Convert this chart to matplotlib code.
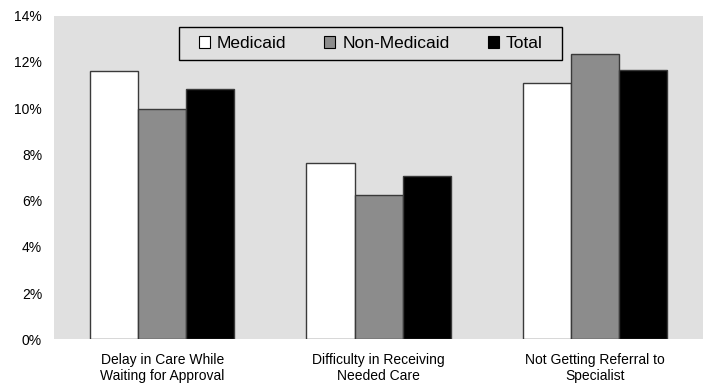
import numpy as np
import matplotlib
matplotlib.use("Agg")
import matplotlib.pyplot as plt
from matplotlib.patches import Rectangle

plt.rcParams["font.family"] = ["Liberation Sans", "DejaVu Sans"]

categories = [
    "Delay in Care While\nWaiting for Approval",
    "Difficulty in Receiving\nNeeded Care",
    "Not Getting Referral to\nSpecialist",
]
series_names = ["Medicaid", "Non-Medicaid", "Total"]
medicaid = [11.6, 7.65, 11.1]
non_medicaid = [9.95, 6.25, 12.35]
total = [10.85, 7.05, 11.65]
y_ticks = [0, 2, 4, 6, 8, 10, 12, 14]

fig = plt.figure(figsize=(7.06, 3.9), dpi=100)
ax = fig.add_axes([0.0765, 0.1295, 0.9193, 0.8302])
ax.set_facecolor("#e0e0e0")

x = np.arange(len(categories))
width = 0.222
colors = ["#ffffff", "#8c8c8c", "#000000"]
for k, (name, vals) in enumerate(zip(series_names, [medicaid, non_medicaid, total])):
    ax.bar(x + (k - 1) * width, vals, width, color=colors[k],
           edgecolor="#3a3a3a", linewidth=1.0, label=name, zorder=2)

ax.set_xlim(-0.5, 2.5)
ax.set_ylim(0, 14)
ax.set_yticks(y_ticks)
ax.set_yticklabels([f"{t}%" for t in y_ticks])
ax.set_xticks(x)
ax.set_xticklabels(categories)
ax.tick_params(axis="y", length=0, pad=8.6, labelsize=10)
ax.tick_params(axis="x", length=0, pad=9.5, labelsize=10)
for s in ax.spines.values():
    s.set_visible(False)

# legend box drawn separately so it can be wider than the entries need
ax.add_patch(Rectangle((0.1926, 0.8632), 0.5901, 0.1019, transform=ax.transAxes,
                       facecolor="#e0e0e0", edgecolor="#000000", linewidth=1.0,
                       zorder=4))
leg = ax.legend(loc="center", bbox_to_anchor=(0.4877, 0.9142), ncol=3,
                fontsize=12.5, frameon=False,
                handlelength=0.63, handleheight=0.63, handletextpad=0.4,
                columnspacing=2.2, borderpad=0.45, borderaxespad=0)
leg.set_zorder(5)
for h in leg.legend_handles:
    h.set_edgecolor("#000000")
    h.set_linewidth(0.8)

fig.savefig("out.png", dpi=100)
